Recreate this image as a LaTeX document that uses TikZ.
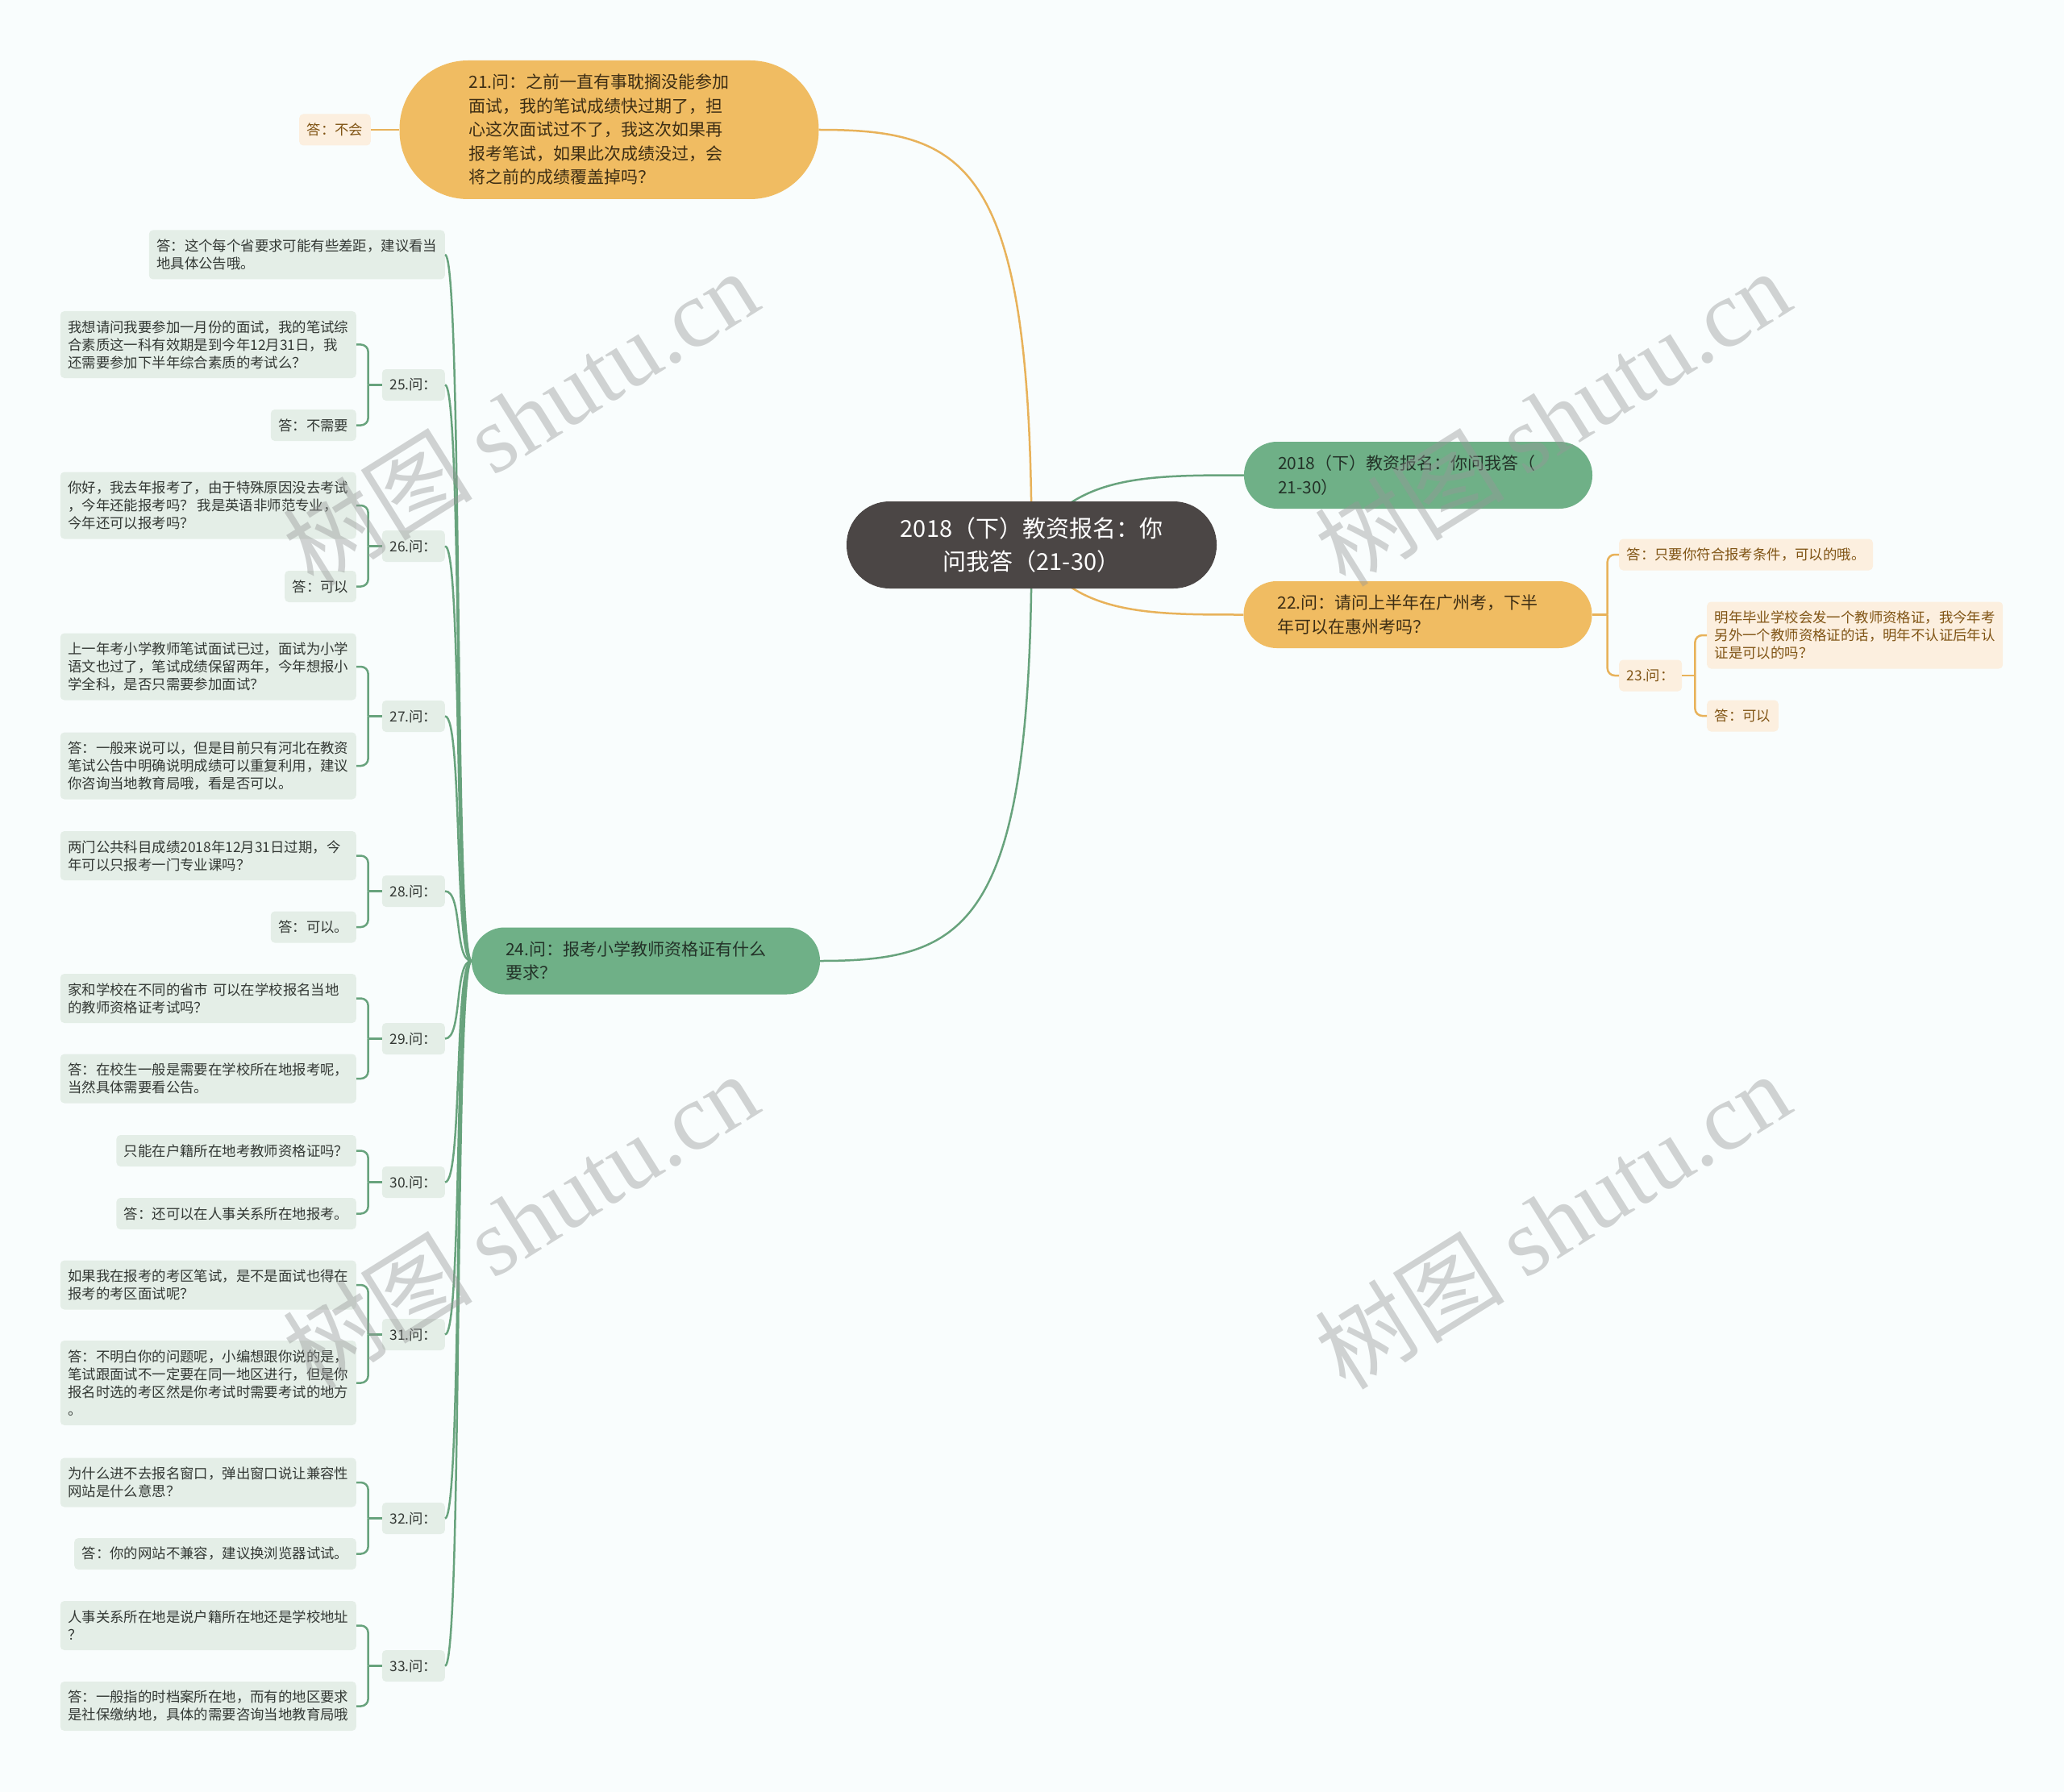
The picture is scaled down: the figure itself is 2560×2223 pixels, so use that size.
\documentclass[tikz,border=0pt]{standalone}
\usepackage{fontspec}
\setmainfont{Noto Sans CJK SC}
\newfontfamily\wmlat{Liberation Serif}
\usetikzlibrary{backgrounds}
\pgfdeclarelayer{bottom}
\pgfsetlayers{bottom,background,main}
\definecolor{bgc}{RGB}{249,253,253}
\definecolor{rootc}{RGB}{75,70,69}
\definecolor{gmain}{RGB}{111,176,135}
\definecolor{omain}{RGB}{240,188,98}
\definecolor{glight}{RGB}{228,238,231}
\definecolor{olight}{RGB}{252,239,223}
\definecolor{gline}{RGB}{104,163,125}
\definecolor{oline}{RGB}{232,178,90}
\definecolor{gtext}{RGB}{51,56,52}
\definecolor{otext}{RGB}{128,84,20}
\definecolor{gmtext}{RGB}{35,50,40}
\definecolor{omtext}{RGB}{60,45,20}
\definecolor{wmc}{RGB}{150,152,152}
\tikzset{
  gbox/.style={fill=glight, draw=none, rounded corners=5pt,
    font=\fontsize{17.4pt}{22pt}\selectfont, text=gtext, align=left,
    inner xsep=9.5pt, inner ysep=0pt, anchor=east},
  obox/.style={gbox, fill=olight, text=otext, anchor=west},
  h1/.style={minimum height=39pt},
  h2/.style={minimum height=61pt},
  h3/.style={minimum height=83pt},
  h4/.style={minimum height=105pt},
  gl/.style={draw=gline, line width=2.5pt},
  ol/.style={draw=oline, line width=2.5pt},
  brk/.style={rounded corners=9pt},
  mainbox/.style={font=\fontsize{21pt}{29.5pt}\selectfont, align=left,
    text width=348pt, inner xsep=42pt, inner ysep=0pt,
    minimum height=83pt, rounded corners=41pt},
  rootbox/.style={font=\fontsize{29pt}{41pt}\selectfont, align=center,
    text=white, fill=rootc, minimum width=459pt, minimum height=108pt,
    rounded corners=53.5pt, inner sep=0pt},
  wm/.style={text=wmc, text opacity=0.42, rotate=32,
    font=\fontsize{118pt}{124pt}\selectfont}
}
\begin{document}
\begin{tikzpicture}[x=1pt,y=-1pt]
\begin{pgfonlayer}{bottom}
\fill[bgc] (0,0) rectangle (2560,2223);
\end{pgfonlayer}
\useasboundingbox (0,0) rectangle (2560,2223);

% ---------- main nodes ----------
\node[rootbox] (root) at (1279.5,676) {2018（下）教资报名：你\\问我答（21-30）};
\node[mainbox, fill=gmain, text=gmtext] (top) at (1759,589.5)
  {2018（下）教资报名：你问我答（\\21-30）};
\node[mainbox, fill=omain, text=omtext] (n22) at (1758.5,762.5)
  {22.问：请问上半年在广州考，下半\\年可以在惠州考吗？};
\node[mainbox, fill=gmain, text=gmtext] (n24) at (801,1192)
  {24.问：报考小学教师资格证有什么\\要求？};
\node[mainbox, fill=omain, text=omtext, inner xsep=86pt, minimum height=172pt,
  rounded corners=85pt] (n21) at (755.5,161)
  {21.问：之前一直有事耽搁没能参加\\面试，我的笔试成绩快过期了，担\\心这次面试过不了，我这次如果再\\报考笔试，如果此次成绩没过，会\\将之前的成绩覆盖掉吗？};

% ---------- 21 child ----------
\node[obox, h1, anchor=east] (a21) at (460,161) {答：不会};

% ---------- 22 subtree ----------
\node[obox, h1] (a22) at (2008,688) {答：只要你符合报考条件，可以的哦。};
\node[obox, h1] (q23) at (2008,838) {23.问：};
\node[obox, h3] (q23a) at (2117,788) {明年毕业学校会发一个教师资格证，我今年考\\另外一个教师资格证的话，明年不认证后年认\\证是可以的吗？};
\node[obox, h1] (q23b) at (2117,888) {答：可以};

% ---------- 24 subtree ----------
\node[gbox, h2] (a24) at (552,316) {答：这个每个省要求可能有些差距，建议看当\\地具体公告哦。};

\node[gbox, h1] (q25) at (552,477.5) {25.问：};
\node[gbox, h3] (q25a) at (442,427.5) {我想请问我要参加一月份的面试，我的笔试综\\合素质这一科有效期是到今年12月31日，我\\还需要参加下半年综合素质的考试么？};
\node[gbox, h1] (q25b) at (442,527.5) {答：不需要};

\node[gbox, h1] (q26) at (552,677.5) {26.问：};
\node[gbox, h3] (q26a) at (442,627) {你好，我去年报考了，由于特殊原因没去考试\\，今年还能报考吗？ 我是英语非师范专业，\\今年还可以报考吗？};
\node[gbox, h1] (q26b) at (442,727.5) {答：可以};

\node[gbox, h1] (q27) at (552,888.5) {27.问：};
\node[gbox, h3] (q27a) at (442,827) {上一年考小学教师笔试面试已过，面试为小学\\语文也过了，笔试成绩保留两年，今年想报小\\学全科，是否只需要参加面试？};
\node[gbox, h3] (q27b) at (442,950) {答：一般来说可以，但是目前只有河北在教资\\笔试公告中明确说明成绩可以重复利用，建议\\你咨询当地教育局哦，看是否可以。};

\node[gbox, h1] (q28) at (552,1105.5) {28.问：};
\node[gbox, h2, text width=348pt] (q28a) at (442,1061.5) {两门公共科目成绩2018年12月31日过期，今\\年可以只报考一门专业课吗？};
\node[gbox, h1] (q28b) at (442,1150) {答：可以。};

\node[gbox, h1] (q29) at (552,1288.5) {29.问：};
\node[gbox, h2, text width=348pt] (q29a) at (442,1238.5) {家和学校在不同的省市 可以在学校报名当地\\的教师资格证考试吗？};
\node[gbox, h2] (q29b) at (442,1338) {答：在校生一般是需要在学校所在地报考呢，\\当然具体需要看公告。};

\node[gbox, h1] (q30) at (552,1466.5) {30.问：};
\node[gbox, h1] (q30a) at (442,1427.5) {只能在户籍所在地考教师资格证吗？};
\node[gbox, h1] (q30b) at (442,1505.5) {答：还可以在人事关系所在地报考。};

\node[gbox, h1] (q31) at (552,1655.5) {31.问：};
\node[gbox, h2] (q31a) at (442,1594) {如果我在报考的考区笔试，是不是面试也得在\\报考的考区面试呢？};
\node[gbox, h4] (q31b) at (442,1715.5) {答：不明白你的问题呢，小编想跟你说的是，\\笔试跟面试不一定要在同一地区进行，但是你\\报名时选的考区然是你考试时需要考试的地方\\。};

\node[gbox, h1] (q32) at (552,1883.5) {32.问：};
\node[gbox, h2] (q32a) at (442,1839) {为什么进不去报名窗口，弹出窗口说让兼容性\\网站是什么意思？};
\node[gbox, h1] (q32b) at (442,1927.5) {答：你的网站不兼容，建议换浏览器试试。};

\node[gbox, h1] (q33) at (552,2066.5) {33.问：};
\node[gbox, h2] (q33a) at (442,2016.5) {人事关系所在地是说户籍所在地还是学校地址\\？};
\node[gbox, h2] (q33b) at (442,2116.5) {答：一般指的时档案所在地，而有的地区要求\\是社保缴纳地，具体的需要咨询当地教育局哦};

% ---------- connectors ----------
\begin{pgfonlayer}{background}
\draw[ol] (root.center) .. controls (1279,202) and (1200,161) .. (n21.east);
\draw[gl] (root.center) .. controls (1279,1150) and (1200,1192) .. (n24.east);
\draw[gl] (root.center) .. controls (1330,589.5) and (1420,589.5) .. (top.west);
\draw[ol] (root.center) .. controls (1330,762.5) and (1420,762.5) .. (n22.west);
\end{pgfonlayer}

\draw[ol] (n21.west) -- (a21.east);

\draw[ol] (n22.east) -- ++(19,0) coordinate (j22);
\draw[ol, brk] (j22) |- (a22.west);
\draw[ol, brk] (j22) |- (q23.west);
\draw[ol] (q23.east) -- ++(16,0) coordinate (j23);
\draw[ol, brk] (j23) |- (q23a.west);
\draw[ol, brk] (j23) |- (q23b.west);

\foreach \c/\y in {a24/316, q25/477.5, q26/677.5, q27/888.5, q28/1105.5,
                   q29/1288.5, q30/1466.5, q31/1655.5, q32/1883.5, q33/2066.5}{
  \draw[gl] (n24.west) .. controls (563,1192) and (574,\y) .. (\c.east);
}
\foreach \q in {q25,q26,q27,q28,q29,q30,q31,q32,q33}{
  \draw[gl] (\q.west) -- ++(-17,0) coordinate (j\q);
  \draw[gl, brk] (j\q) |- (\q a.east);
  \draw[gl, brk] (j\q) |- (\q b.east);
}

% ---------- watermarks ----------
\node[wm] (wm1) at (645,518) {树图 {\wmlat shutu.cn}};
\node[wm] (wm2) at (1925,518) {树图 {\wmlat shutu.cn}};
\node[wm] (wm3) at (645,1514) {树图 {\wmlat shutu.cn}};
\node[wm] (wm4) at (1925,1514) {树图 {\wmlat shutu.cn}};
\end{tikzpicture}
\end{document}
